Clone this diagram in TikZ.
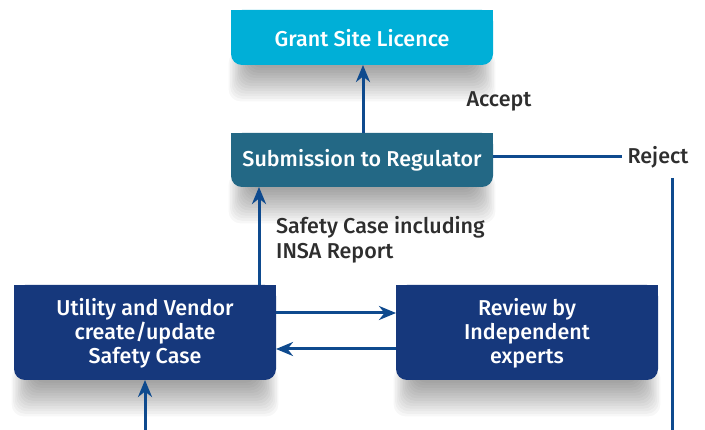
\documentclass[tikz,border=0pt]{standalone}
\usepackage{fontspec}
\setmainfont{Fira Sans}[BoldFont={Fira Sans Medium}]
\usetikzlibrary{arrows.meta,backgrounds,calc}

\definecolor{grantcyan}{HTML}{00AFD7}
\definecolor{subteal}{HTML}{236885}
\definecolor{navy}{HTML}{16387C}
\definecolor{linkblue}{HTML}{0E4A8E}
\definecolor{labelgray}{HTML}{2E2E2E}

\tikzset{
  boxtext/.style={text=white, font=\bfseries\fontsize{21.5}{24}\selectfont,
    align=center, inner sep=0pt},
  label/.style={text=labelgray, font=\bfseries\fontsize{21.5}{25}\selectfont,
    inner sep=0pt},
  link/.style={draw=linkblue, line width=3pt},
  arrowlink/.style={link, -{Stealth[length=17pt,width=14pt,inset=5.5pt]}},
  shadowlayer/.style={fill=black, fill opacity=0.03, rounded corners=12pt},
}

% draws a box with square top corners, rounded bottom corners and a soft
% shadow built from stacked translucent layers
\newcommand{\flowbox}[3]{%
  \foreach \i in {1,...,14}{
    \fill[shadowlayer] ($(#1 |- #2)+({20-1.6*\i},-14)$)
      rectangle ($(#2)+({-20+1.6*\i},{2.6*\i})$);
  }
  \fill[#3, rounded corners=11pt] (#1) rectangle (#2);
  \fill[#3] (#1) rectangle ($(#2)!0.5!(#2 |- #1)$);
}

\begin{document}
\begin{tikzpicture}[x=1pt, y=-1pt]
  \useasboundingbox (0,0) rectangle (705,430);

  % box outlines (as coordinates)
  \coordinate (g1) at (231,10);  \coordinate (g2) at (493,65);
  \coordinate (s1) at (231,133); \coordinate (s2) at (493,187);
  \coordinate (u1) at (14,285);  \coordinate (u2) at (276,380);
  \coordinate (r1) at (396,285); \coordinate (r2) at (658,380);

  % box texts
  \node[boxtext] (grant) at (362,38) {Grant Site Licence};
  \node[boxtext] (submit) at (362,160) {Submission to Regulator};
  \node[boxtext] (utility) at (145,333) {Utility and Vendor\\create/update\\Safety Case};
  \node[boxtext] (review) at (527,333) {Review by\\Independent\\experts};

  \begin{scope}[on background layer]
    \flowbox{g1}{g2}{grantcyan}
    \flowbox{s1}{s2}{subteal}
    \flowbox{u1}{u2}{navy}
    \flowbox{r1}{r2}{navy}
  \end{scope}

  % labels
  \node[label] (accept) at (499,101) {Accept};
  \node[label] (reject) at (658,157) {Reject};
  \node[label, anchor=west, align=left] (sclabel) at (276,239.5)
    {Safety Case including\\INSA Report};

  % connectors
  \coordinate (subtop) at (363,133);
  \coordinate (grantbot) at (363,65);
  \draw[arrowlink] (subtop) -- (grantbot);

  \coordinate (utop) at (259,285);
  \coordinate (subbot) at (259,187);
  \draw[arrowlink] (utop) -- (subbot);

  \coordinate (ur1) at (276,313);  \coordinate (rl1) at (396,313);
  \draw[arrowlink] (ur1) -- (rl1);
  \coordinate (rl2) at (396,349);  \coordinate (ur2) at (276,349);
  \draw[arrowlink] (rl2) -- (ur2);

  \coordinate (subright) at (493,156.5);
  \coordinate (rejleft) at (622,156.5);
  \draw[link] (subright) -- (rejleft);

  \coordinate (rejdown) at (672,178);
  \coordinate (rightend) at (672,430);
  \draw[link] (rejdown) -- (rightend);

  \coordinate (bottomin) at (145,430);
  \coordinate (ubot) at (145,380);
  \draw[arrowlink] (bottomin) -- (ubot);
\end{tikzpicture}
\end{document}
